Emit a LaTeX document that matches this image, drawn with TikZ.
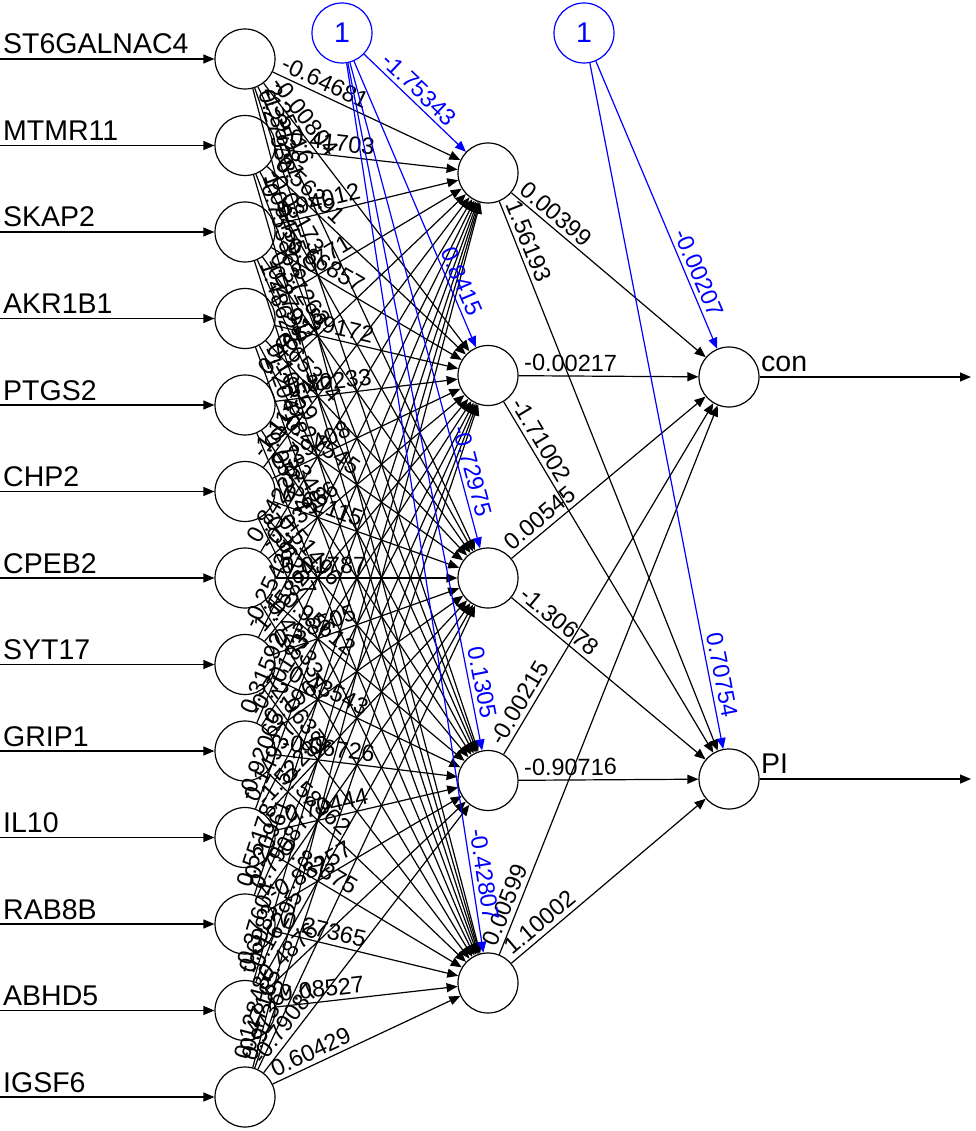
\documentclass[tikz,border=0pt]{standalone}
\usepackage{fontspec}
\setmainfont{Liberation Sans}
\usepackage{tikz}
\usetikzlibrary{arrows.meta,positioning,calc}
\tikzstyle{neuron} = [draw, circle, minimum size=60pt, inner sep=0pt, line width=1.2pt]
\tikzstyle{bias} = [neuron, blue, font=\fontsize{28.5}{30}\selectfont]
\tikzstyle{line} = [draw, line width=1.2pt, -{Triangle[length=11pt,width=9pt]}]
\tikzstyle{bline} = [line, blue]
\tikzstyle{wlab} = [sloped, anchor=south west, inner xsep=5pt, inner ysep=4pt, font=\fontsize{23.5}{24}\selectfont]
\tikzstyle{blab} = [sloped, anchor=south east, inner xsep=30pt, inner ysep=4pt, text=blue, font=\fontsize{23.5}{24}\selectfont]
\tikzstyle{genelab} = [anchor=base west, inner sep=0pt, font=\fontsize{28.5}{30}\selectfont]

\begin{document}
\begin{tikzpicture}[x=1pt,y=-1pt]
   		\useasboundingbox (0,0) rectangle (975,1131);
   		% input layer
   		\foreach \gene [count=\i] in {ST6GALNAC4,MTMR11,SKAP2,AKR1B1,PTGS2,CHP2,CPEB2,SYT17,GRIP1,IL10,RAB8B,ABHD5,IGSF6} {
   			\node[neuron] (in\i) at (245,{59+86.5*(\i-1)}) {};
   			\coordinate (s\i) at (0,{59+86.5*(\i-1)});
   			\node[genelab] (g\i) at (3,{54+86.5*(\i-1)}) {\gene};
   			\path[line] (s\i) -- (in\i);
   		}
   		% hidden layer
   		\foreach \j in {1,...,5} \node[neuron] (h\j) at (488,{173+202.5*(\j-1)}) {};
   		% output layer
   		\node[neuron] (o1) at (729,377) {};
   		\node[neuron] (o2) at (729,779) {};
   		\node[genelab] (lcon) at (761,371) {con};
   		\node[genelab] (lpi)  at (761,773) {PI};
   		\coordinate (e1) at (971,377);
   		\coordinate (e2) at (971,779);
   		\path[line] (o1) -- (e1);
   		\path[line] (o2) -- (e2);
   		% bias nodes
   		\node[bias] (b1) at (342,33) {1};
   		\node[bias] (b2) at (584,33) {1};
   		% input -> hidden
   		\foreach \i/\ws in {1/{-0.64681,-0.00804,2.35716,-1.35281,0.27938},
   		                    2/{-0.41703,0.56291,-0.08173,1.09455,-0.75336},
   		                    3/{0.94012,-0.66857,0.37263,-0.27911,1.48622},
   		                    4/{-0.80771,-0.39172,0.65304,0.10559,-1.20418},
   		                    5/{0.46813,-0.80233,-0.21545,0.73348,0.05524},
   		                    6/{-1.11874,0.29408,0.62115,-0.51496,0.36267},
   		                    7/{0.84229,-0.13566,0.01787,-0.95612,0.42133},
   		                    8/{-0.25439,1.15824,0.38505,-0.43543,2.06371},
   		                    9/{0.31592,-0.70183,0.1964,-0.06726,-0.58362},
   		                    10/{-0.92065,0.14937,-1.52288,-0.70444,0.82375},
   		                    11/{0.55178,-0.20961,0.79087,-0.88257,0.27365},
   		                    12/{-0.37604,0.6983,-0.16295,0.4876,0.08527},
   		                    13/{0.12848,-0.47165,0.97362,-0.79087,0.60429}} {
   			\foreach \w [count=\j] in \ws {
   				\path[line] (in\i) -- (h\j) node[wlab,pos=0] {\w};
   			}
   		}
   		% hidden -> output
   		\foreach \j/\wa/\wb in {1/0.00399/1.56193,2/-0.00217/-1.71002,3/0.00545/-1.30678,4/-0.00215/-0.90716,5/0.00599/1.10002} {
   			\path[line] (h\j) -- (o1) node[wlab,pos=0] {\wa};
   			\path[line] (h\j) -- (o2) node[wlab,pos=0] {\wb};
   		}
   		% bias -> hidden, bias -> output
   		\foreach \j/\w in {1/-1.75343,2/0.8415,3/-0.72975,4/0.1305,5/-0.42807}
   			\path[bline] (b1) -- (h\j) node[blab,pos=1] {\w};
   		\path[bline] (b2) -- (o1) node[blab,pos=1] {-0.00207};
   		\path[bline] (b2) -- (o2) node[blab,pos=1] {0.70754};
\end{tikzpicture}
\end{document}
